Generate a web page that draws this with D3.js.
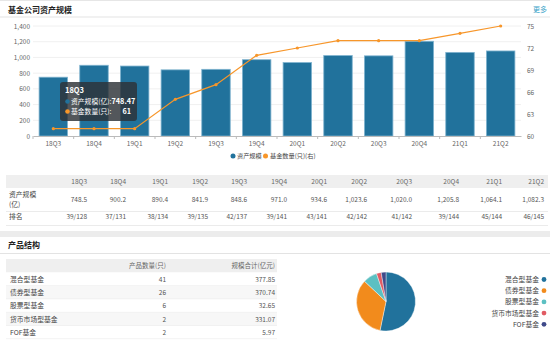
<!DOCTYPE html>
<html><head><meta charset="utf-8">
<script src="https://cdn.jsdelivr.net/npm/d3@7/dist/d3.min.js"></script>
<style>
body{margin:0;background:#fff;}
svg text{font-family:"Noto Sans CJK SC","Noto Sans",sans-serif;}
</style></head><body>
<svg id="c" width="550" height="345"></svg>
<script>
const quarters=["18Q3","18Q4","19Q1","19Q2","19Q3","19Q4","20Q1","20Q2","20Q3","20Q4","21Q1","21Q2"];
const assets=[748.47,900.2,890.4,841.9,848.6,971.0,934.6,1023.6,1020.0,1205.8,1064.1,1082.3];
const assetLabels=["748.5","900.2","890.4","841.9","848.6","971.0","934.6","1,023.6","1,020.0","1,205.8","1,064.1","1,082.3"];
const fundCount=[61,61,61,65,67,71,72,73,73,73,74,75];
const ranks=["39/128","37/131","38/134","39/135","42/137","39/141","43/141","42/142","41/142","39/144","45/144","46/145"];
const leftTicks=[0,200,400,600,800,1000,1200,1400];
const rightTicks=[60,63,66,69,72,75];
const prodTypes=["混合型基金","债券型基金","股票型基金","货币市场型基金","FOF基金"];
const prodCount=[41,26,6,2,2];
const prodScale=["377.85","370.74","32.65","331.07","5.97"];
const pieColors=["#21729c","#f28b1c","#5cc0c2","#e15b63","#3f4a8a"];

const svg=d3.select("#c");
const gray="#666";
// top header
svg.append("rect").attr("x",0).attr("y",0).attr("width",550).attr("height",1).attr("fill","#e6e6e6");
svg.append("text").attr("x",8).attr("y",12.5).attr("font-size",8).attr("font-weight","bold").attr("fill","#222").text("基金公司资产规模");
svg.append("text").attr("x",547).attr("y",12).attr("font-size",7).attr("text-anchor","end").attr("fill","#3aa3c8").text("更多");
svg.append("rect").attr("x",0).attr("y",16.5).attr("width",550).attr("height",1).attr("fill","#e3e3e3");

// chart
const xb=d3.scaleBand().domain(quarters).range([33,521]);
const y=d3.scaleLinear().domain([0,1400]).range([136,26]);
const y2=d3.scaleLinear().domain([60,75]).range([136,26]);
const g=svg.append("g");
g.selectAll(".grid").data(leftTicks.slice(1)).join("line").attr("x1",33).attr("x2",521)
 .attr("y1",d=>y(d)).attr("y2",d=>y(d)).attr("stroke","#f0f0f0");
const yl=d3.axisLeft(y).tickValues(leftTicks).tickSize(0).tickPadding(3).tickFormat(d3.format(","));
const ya=svg.append("g").attr("transform","translate(33,0)").call(yl);
ya.select(".domain").remove();
ya.selectAll("text").attr("font-size",6.5).attr("fill",gray);
const yr=d3.axisRight(y2).tickValues(rightTicks).tickSize(0).tickPadding(6);
const yra=svg.append("g").attr("transform","translate(521,0)").call(yr);
yra.select(".domain").remove();
yra.selectAll("text").attr("font-size",6.5).attr("fill",gray);

g.selectAll(".bar").data(assets).join("rect")
 .attr("x",(d,i)=>xb(quarters[i])+xb.bandwidth()*0.15).attr("width",xb.bandwidth()*0.7)
 .attr("y",d=>y(d)).attr("height",d=>136-y(d))
 .attr("fill","#21729c").attr("stroke","#7fb3cf").attr("stroke-width",0.8);

const xa=svg.append("g").attr("transform","translate(0,136)").call(d3.axisBottom(xb).tickSize(0).tickPadding(5));
xa.select(".domain").attr("stroke","#bbb");
xa.selectAll("text").attr("font-size",6.5).attr("fill",gray);
svg.append("g").selectAll("line").data(quarters).join("line")
 .attr("x1",d=>xb(d)).attr("x2",d=>xb(d)).attr("y1",136).attr("y2",139).attr("stroke","#bbb");

const line=d3.line().x((d,i)=>xb(quarters[i])+xb.bandwidth()/2).y(d=>y2(d));
svg.append("path").datum(fundCount).attr("d",line).attr("fill","none").attr("stroke","#f7962a").attr("stroke-width",1.2);
svg.selectAll(".pt").data(fundCount).join("circle").attr("cx",(d,i)=>xb(quarters[i])+xb.bandwidth()/2)
 .attr("cy",d=>y2(d)).attr("r",1.6).attr("fill","#f7962a");

// legend
const lg=svg.append("g");
lg.append("circle").attr("cx",233).attr("cy",156).attr("r",2.5).attr("fill","#21729c");
lg.append("text").attr("x",237).attr("y",158.3).attr("font-size",6.2).attr("fill","#444").text("资产规模");
lg.append("circle").attr("cx",265.5).attr("cy",156).attr("r",2.5).attr("fill","#f7962a");
lg.append("text").attr("x",270).attr("y",158.3).attr("font-size",6.2).attr("fill","#444").text("基金数量(只)(右)");

// tooltip
const tt=svg.append("g");
tt.append("rect").attr("x",60).attr("y",82).attr("width",77).attr("height",39).attr("rx",3)
 .attr("fill","rgba(45,50,55,0.82)");
tt.append("text").attr("x",65).attr("y",93).attr("font-size",7.5).attr("font-weight","bold").attr("fill","#fff").text(quarters[0]);
tt.append("circle").attr("cx",67.5).attr("cy",101.5).attr("r",2.3).attr("fill","#21729c");
const t1=tt.append("text").attr("x",71).attr("y",104).attr("font-size",6.8).attr("fill","#fff");
t1.append("tspan").text("资产规模(亿):");
t1.append("tspan").attr("font-weight","bold").attr("font-size",7.3).text(assets[0].toFixed(2));
tt.append("circle").attr("cx",67.5).attr("cy",111.5).attr("r",2.3).attr("fill","#f7962a");
tt.append("text").attr("x",71).attr("y",114).attr("font-size",6.8).attr("fill","#fff").text("基金数量(只):");
tt.append("text").attr("x",131).attr("y",114).attr("font-size",7.3).attr("font-weight","bold").attr("text-anchor","end").attr("fill","#fff").text(fundCount[0]);

// table 1
const colRight=[87,126,168,208,247,287,327,367,412,459,502,544];
const tb=svg.append("g");
tb.append("rect").attr("x",6).attr("y",175).attr("width",542).attr("height",13).attr("fill","#efefef");
tb.selectAll(".h").data(quarters).join("text").attr("x",(d,i)=>colRight[i]).attr("y",184)
 .attr("text-anchor","end").attr("font-size",6.5).attr("fill",gray).text(d=>d);
tb.append("text").attr("x",9).attr("y",196.5).attr("font-size",6.8).attr("fill","#444").text("资产规模");
tb.append("text").attr("x",9).attr("y",206.5).attr("font-size",6.8).attr("fill","#444").text("(亿)");
tb.selectAll(".v").data(assetLabels).join("text").attr("x",(d,i)=>colRight[i]).attr("y",202)
 .attr("text-anchor","end").attr("font-size",6.5).attr("fill","#555").text(d=>d);
tb.append("rect").attr("x",6).attr("y",211).attr("width",542).attr("height",0.8).attr("fill","#e6e6e6");
tb.append("text").attr("x",9).attr("y",218.8).attr("font-size",6.8).attr("fill","#444").text("排名");
tb.selectAll(".r").data(ranks).join("text").attr("x",(d,i)=>colRight[i]).attr("y",218.8)
 .attr("text-anchor","end").attr("font-size",6.5).attr("fill","#555").text(d=>d);
tb.append("rect").attr("x",6).attr("y",225).attr("width",542).attr("height",0.8).attr("fill","#e6e6e6");

// separator band
svg.append("rect").attr("x",0).attr("y",231).attr("width",550).attr("height",6).attr("fill","#ececec");
svg.append("text").attr("x",8).attr("y",248).attr("font-size",8).attr("font-weight","bold").attr("fill","#222").text("产品结构");
svg.append("rect").attr("x",0).attr("y",253).attr("width",550).attr("height",1).attr("fill","#e3e3e3");

// table 2
const t2=svg.append("g");
t2.append("rect").attr("x",6).attr("y",259).attr("width",271).attr("height",13.5).attr("fill","#efefef");
t2.append("text").attr("x",166).attr("y",268).attr("text-anchor","end").attr("font-size",6.5).attr("fill",gray).text("产品数量(只)");
t2.append("text").attr("x",275).attr("y",268).attr("text-anchor","end").attr("font-size",6.5).attr("fill",gray).text("规模合计(亿元)");
const rowY=i=>272.5+i*13.3;
t2.selectAll(".bg").data(prodTypes).join("rect").attr("x",6).attr("y",(d,i)=>rowY(i)).attr("width",271).attr("height",13.3)
 .attr("fill",(d,i)=>i%2?"#f7f7f7":"#fff");
t2.selectAll(".sep").data(prodTypes).join("rect").attr("x",6).attr("y",(d,i)=>rowY(i+1)-0.5).attr("width",271).attr("height",0.6).attr("fill","#ececec");
t2.selectAll(".n").data(prodTypes).join("text").attr("x",10).attr("y",(d,i)=>rowY(i)+9.3)
 .attr("font-size",6.8).attr("fill","#444").text(d=>d);
t2.selectAll(".c").data(prodCount).join("text").attr("x",166).attr("y",(d,i)=>rowY(i)+9.3)
 .attr("text-anchor","end").attr("font-size",6.5).attr("fill","#555").text(d=>d);
t2.selectAll(".s").data(prodScale).join("text").attr("x",275).attr("y",(d,i)=>rowY(i)+9.3)
 .attr("text-anchor","end").attr("font-size",6.5).attr("fill","#555").text(d=>d);

// pie
const pie=d3.pie().sort(null)(prodCount);
const arc=d3.arc().innerRadius(0).outerRadius(29.5);
svg.append("g").attr("transform","translate(386,301.5)").selectAll("path").data(pie).join("path")
 .attr("d",arc).attr("fill",(d,i)=>pieColors[i]).attr("stroke","#fff").attr("stroke-width",0.4);
const pl=svg.append("g");
pl.selectAll("circle").data(prodTypes).join("circle").attr("cx",544).attr("cy",(d,i)=>279.5+i*11.2).attr("r",2.4)
 .attr("fill",(d,i)=>pieColors[i]);
pl.selectAll("text").data(prodTypes).join("text").attr("x",539).attr("y",(d,i)=>282+i*11.2).attr("text-anchor","end")
 .attr("font-size",6.8).attr("fill","#444").text(d=>d);
</script></body></html>
